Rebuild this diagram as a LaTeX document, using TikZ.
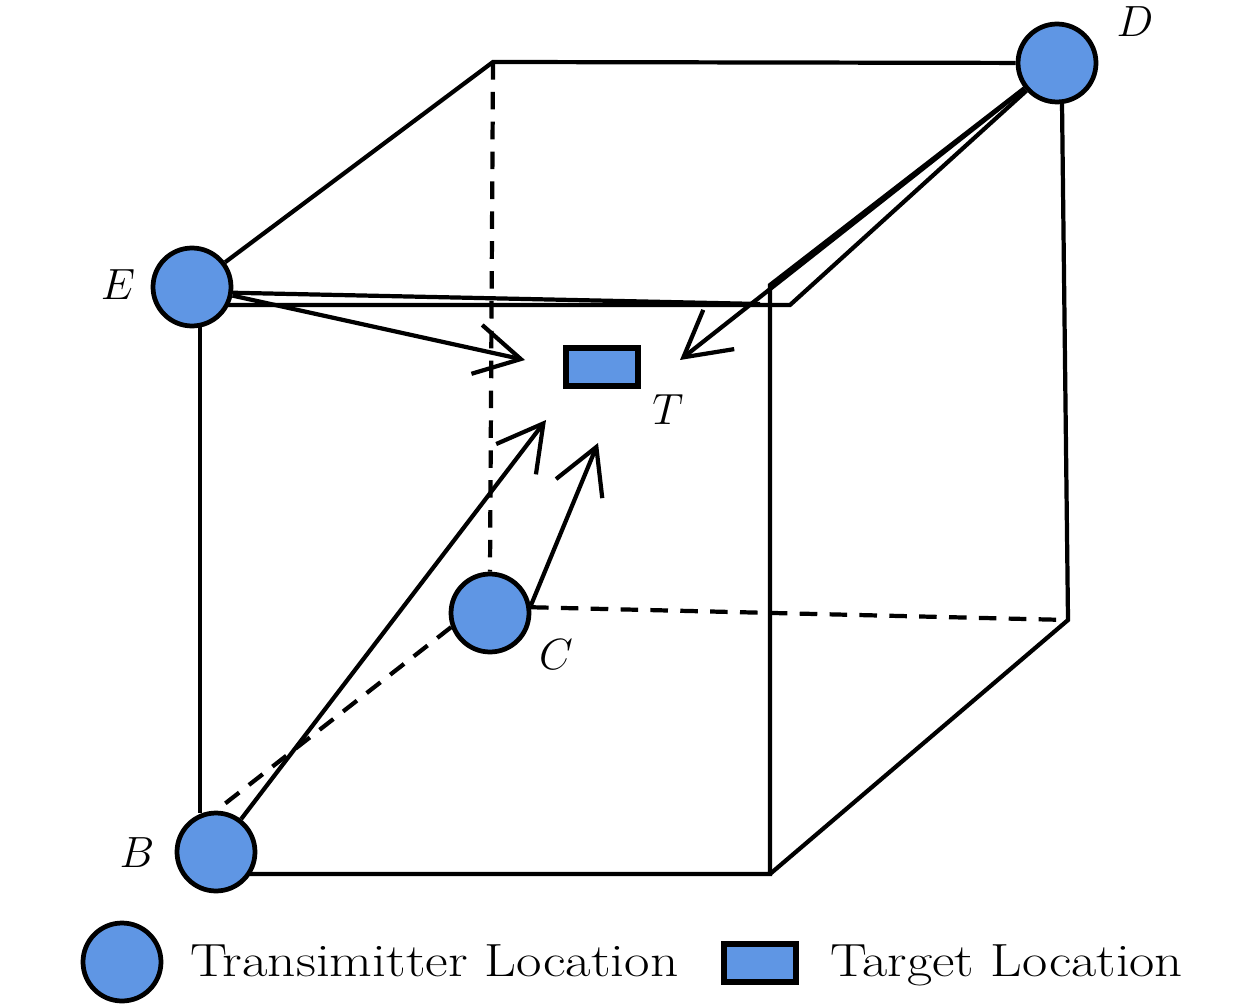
\documentclass[tikz,border=0pt]{standalone}
\usepackage{tikz}
\usetikzlibrary{arrows.meta, positioning}
\definecolor{txblue}{HTML}{5F96E4}

\begin{document}
\begin{tikzpicture}[x=0.02cm, y=-0.02cm, line width=2.4pt,
    txnode/.style={circle, draw, line width=2.7pt, fill=txblue, minimum size=1.56cm, inner sep=0pt},
    tgtnode/.style={rectangle, draw, line width=2.9pt, fill=txblue, minimum width=1.44cm, minimum height=0.76cm, inner sep=0pt},
    hidden/.style={dash pattern=on 10pt off 7pt},
    ray/.style={-{Straight Barb[length=0.9cm, width=1cm]}},
    ptlabel/.style={font=\fontsize{26}{30}\selectfont},
    legtext/.style={font=\fontsize{26.5}{30}\selectfont, inner sep=0pt, anchor=base west}]
    \useasboundingbox (0,0) rectangle (1260,1006);

    % Transmitters and target
    \node[txnode] (E) at (192,287) {};
    \node[txnode] (D) at (1057,63) {};
    \node[txnode] (C) at (490,613) {};
    \node[txnode] (B) at (216,852) {};
    \node[tgtnode] (T) at (602,367) {};

    % Hidden edges
    \draw[hidden] (493,62) -- (C.north);
    \draw[hidden] (C.8) -- (1068,620);
    \draw[hidden] (C.200) -- (B.north);

    % Front face
    \draw (200,326) -- (200,813);
    \draw (250,874) -- (770,874) -- (770,285) -- (D);
    \draw (228,305) -- (790,305) -- (D);
    \draw (E.-8) -- (760,304);

    % Top and right faces
    \draw (E) -- (493,62) -- (D);
    \draw (1062,103) -- (1068,620) -- (770,874);

    % Rays to the target
    \coordinate (tE) at (525,360);
    \coordinate (tD) at (680,360);
    \coordinate (tB) at (546,420);
    \coordinate (tC) at (598,443);
    \draw[ray] (E.-12) -- (tE);
    \draw[ray] (D) -- (tD);
    \draw[ray] (B) -- (tB);
    \draw[ray] (C.10) -- (tC);

    % Point labels
    \node[ptlabel] (Elbl) at (118,285) {$E$};
    \node[ptlabel] (Dlbl) at (1135,22) {$D$};
    \node[ptlabel] (Clbl) at (556,655) {$C$};
    \node[ptlabel] (Blbl) at (137,853) {$B$};
    \node[ptlabel] (Tlbl) at (668,410) {$T$};

    % Legend
    \node[txnode] (legtx) at (122,962) {};
    \node[legtext] (legtxtext) at (188,976) {\scalebox{1.19}[1]{Transimitter Location}};
    \node[tgtnode] (legtgt) at (760,963) {};
    \node[legtext] (legtgttext) at (828,976) {\scalebox{1.18}[1]{Target Location}};
\end{tikzpicture}
\end{document}
